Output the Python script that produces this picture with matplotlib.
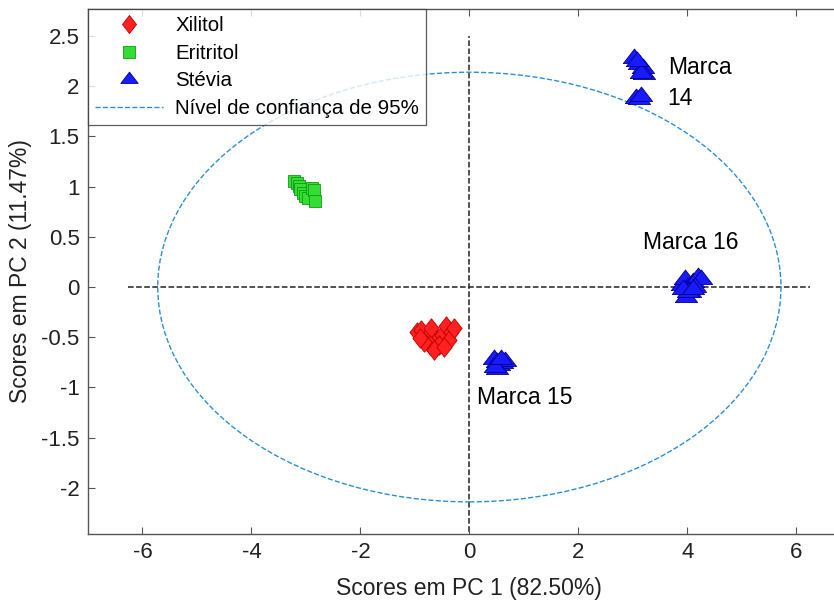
import numpy as np
import matplotlib
matplotlib.use("Agg")
import matplotlib.pyplot as plt
from matplotlib.patches import Ellipse

plt.rcParams['font.family'] = ['Liberation Sans', 'DejaVu Sans']
plt.rcParams['axes.unicode_minus'] = False

# Data
xilitol_x = [-0.97, -0.88, -0.79, -0.70, -0.60, -0.51, -0.42, -0.33, -0.38, -0.55,
             -0.73, -0.84, -0.64, -0.46, -0.91, -0.29]
xilitol_y = [-0.45, -0.43, -0.51, -0.41, -0.53, -0.48, -0.39, -0.45, -0.53, -0.58,
             -0.58, -0.55, -0.63, -0.60, -0.51, -0.41]
eritritol_x = [-3.22, -3.17, -3.13, -3.10, -3.06, -3.02, -2.96, -2.88, -2.86, -2.84]
eritritol_y = [1.06, 1.04, 1.01, 0.98, 0.94, 0.91, 0.89, 0.99, 0.97, 0.86]
stevia_x = [3.02, 3.12, 3.18, 3.20, 3.15, 3.08, 3.05, 3.12, 3.15,
            0.45, 0.50, 0.55, 0.60, 0.65, 0.50, 0.48, 0.58,
            3.90, 3.95, 4.00, 4.05, 4.10, 4.20, 4.25, 4.15, 3.98, 4.02, 3.92, 4.10]
stevia_y = [2.28, 2.22, 2.18, 2.12, 2.13, 2.25, 1.88, 1.87, 1.90,
            -0.72, -0.75, -0.78, -0.76, -0.74, -0.82, -0.80, -0.72,
            0.02, 0.08, 0.00, -0.05, 0.05, 0.10, 0.08, 0.00, -0.10, -0.05, -0.02, -0.02]
ellipse_a = 5.72
ellipse_b = 2.14
xlabel = "Scores em PC 1 (82.50%)"
ylabel = "Scores em PC 2 (11.47%)"
xticks = [-6, -4, -2, 0, 2, 4, 6]
xtick_labels = ["-6", "-4", "-2", "0", "2", "4", "6"]
yticks = [-2, -1.5, -1, -0.5, 0, 0.5, 1, 1.5, 2, 2.5]
ytick_labels = ["-2", "-1.5", "-1", "-0.5", "0", "0.5", "1", "1.5", "2", "2.5"]

fig = plt.figure(figsize=(8.34, 6.06), dpi=100)
ax = fig.add_axes([88/834, 72/606, (850.7-88)/834, 525/606])
ax.set_xlim(-7, 7)
ax.set_ylim(-2.46, 2.77)

diamond = [(0, 1), (0.78, 0), (0, -1), (-0.78, 0), (0, 1)]
tri = [(-1, -0.45), (1, -0.45), (0, 0.85), (-1, -0.45)]

ax.plot([-6.27, 6.25], [0, 0], '--', color='#222222', lw=1.1, zorder=1)
ax.plot([0, 0], [-2.6, 2.5], '--', color='#222222', lw=1.1, zorder=1)
ell = Ellipse((0, 0), 2*ellipse_a, 2*ellipse_b, fill=False, ls='--',
              edgecolor='#2b8fd6', lw=1.0, zorder=2)
ax.add_patch(ell)

ax.plot(xilitol_x, xilitol_y, ls='none', marker=diamond, ms=14,
        mfc='#ff2020', mec='#c00000', mew=0.6, zorder=3)
ax.plot(eritritol_x, eritritol_y, ls='none', marker='s', ms=8.5,
        mfc='#33dd33', mec='#119911', mew=0.6, zorder=3)
ax.plot(stevia_x, stevia_y, ls='none', marker=tri, ms=16,
        mfc='#1a1aff', mec='#00008b', mew=0.6, zorder=3)

# legend handles
h1, = ax.plot([], [], ls='none', marker=diamond, ms=13, mfc='#ff2020', mec='#c00000', mew=0.6)
h2, = ax.plot([], [], ls='none', marker='s', ms=8.5, mfc='#33dd33', mec='#119911', mew=0.6)
h3, = ax.plot([], [], ls='none', marker=tri, ms=12.5, mfc='#1a1aff', mec='#00008b', mew=0.6)
h4, = ax.plot([], [], ls='--', color='#2b8fd6', lw=1.0)
leg = ax.legend([h1, h2, h3, h4], ['Xilitol', 'Eritritol', 'Stévia', 'Nível de confiança de 95%'],
                loc='upper left', bbox_to_anchor=(0, 1), borderaxespad=0,
                fontsize=14.8, frameon=True, fancybox=False, handlelength=3.3,
                labelspacing=0.42, borderpad=0.35, handletextpad=0.6)
leg.get_frame().set_edgecolor('#333333')
leg.get_frame().set_linewidth(0.9)
leg.set_zorder(10)

fs = 16.5
ax.text(3.64, 2.19, "Marca", fontsize=fs, va='center', ha='left', zorder=5)
ax.text(3.64, 1.88, "14", fontsize=fs, va='center', ha='left', zorder=5)
ax.text(4.06, 0.44, "Marca 16", fontsize=fs, va='center', ha='center', zorder=5)
ax.text(1.02, -1.10, "Marca 15", fontsize=fs, va='center', ha='center', zorder=5)

ax.set_xticks(xticks)
ax.set_xticklabels(xtick_labels)
ax.set_yticks(yticks)
ax.set_yticklabels(ytick_labels)
ax.tick_params(direction='in', top=True, right=True, labelsize=16, length=5,
               color='#555555', labelcolor='#222222', pad=6)
for s in ax.spines.values():
    s.set_color('#555555')
    s.set_linewidth(1.0)
ax.set_xlabel(xlabel, fontsize=16.5, color='#222222', labelpad=10)
ax.set_ylabel(ylabel, fontsize=16.5, color='#222222', labelpad=7)

fig.savefig('out.png', dpi=100)
